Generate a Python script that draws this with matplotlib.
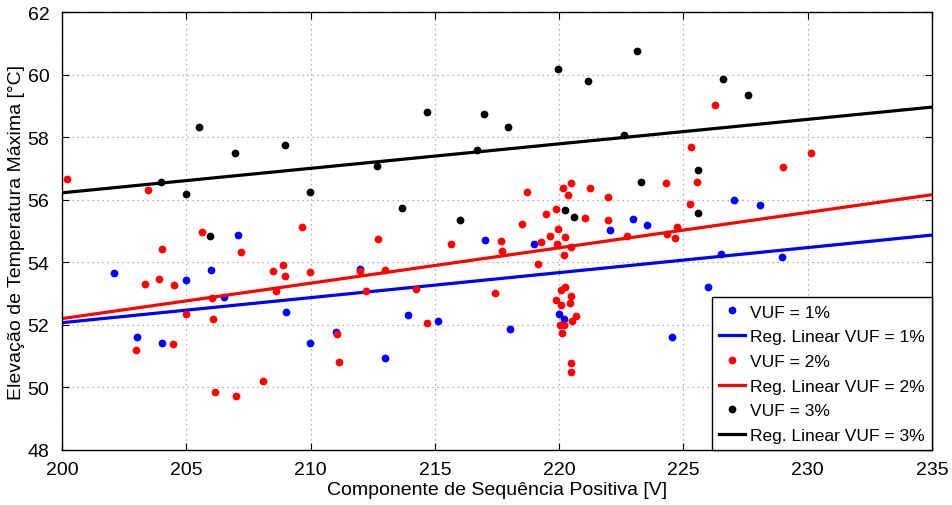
import matplotlib.pyplot as plt

plt.rcParams['font.family'] = ['Liberation Sans', 'DejaVu Sans']

# VUF = 1%
vuf1_x = [202.1, 203.03, 204.01, 204.97, 206.0, 206.52, 207.07, 209.02, 209.98, 212.0,
          211.04, 212.99, 213.9, 215.11, 217.02, 218.01, 219.0, 220.0, 220.18, 222.05,
          222.97, 223.53, 227.03, 228.09, 226.5, 228.98, 226.0, 224.55]
vuf1_y = [53.65, 51.62, 51.43, 53.44, 53.74, 52.88, 54.87, 52.4, 51.43, 53.8,
          51.77, 50.94, 52.32, 52.12, 54.72, 51.88, 54.57, 52.34, 52.2, 55.02,
          55.39, 55.19, 55.98, 55.83, 54.27, 54.16, 53.2, 51.61]

# VUF = 2%
vuf2_x = [200.21, 203.45, 205.64, 209.67, 204.01, 203.34, 203.9, 204.52, 202.97, 204.48,
          204.98, 206.02, 206.07, 207.19, 206.14, 207.01, 208.09, 208.5, 208.88, 208.98,
          208.6, 209.98, 212.71, 212.0, 213.0, 212.22, 214.26, 211.05, 211.14, 214.69,
          215.64, 217.66, 217.7, 217.43, 219.14, 219.26, 219.62, 219.9, 218.69, 219.49,
          219.86, 218.5, 219.95, 220.15, 220.46, 220.35, 221.25, 221.95, 221.03, 221.95,
          220.23, 220.49, 220.19, 226.28, 225.32, 225.55, 225.28, 229.02, 224.29, 224.35,
          224.66, 224.74, 222.72, 230.12, 220.09, 220.23, 220.46, 220.45, 219.89, 220.67,
          220.53, 220.02, 220.18, 220.12, 220.46, 220.46, 220.09]
vuf2_y = [56.65, 56.32, 54.98, 55.14, 54.43, 53.31, 53.48, 53.27, 51.2, 51.38,
          52.35, 52.85, 52.19, 54.34, 49.85, 49.73, 50.21, 53.73, 53.9, 53.56,
          53.08, 53.7, 54.76, 53.72, 53.75, 53.09, 53.16, 51.7, 50.81, 52.07,
          54.58, 54.69, 54.35, 53.03, 53.95, 54.66, 54.83, 54.57, 56.25, 55.53,
          55.69, 55.23, 55.05, 56.37, 56.52, 56.14, 56.39, 56.1, 55.41, 55.35,
          54.82, 54.48, 54.22, 59.04, 57.7, 56.57, 55.87, 57.06, 56.54, 54.89,
          54.78, 55.12, 54.83, 57.48, 53.12, 53.2, 52.92, 52.69, 52.78, 52.29,
          52.11, 52.0, 51.98, 51.73, 50.79, 50.48, 52.63]

# VUF = 3%
vuf3_x = [205.52, 206.96, 208.98, 204.0, 204.99, 209.98, 205.95, 214.67, 216.96, 217.96,
          216.69, 212.67, 213.68, 216.01, 219.97, 221.17, 223.13, 222.61, 226.59, 227.6,
          225.6, 223.29, 225.6, 220.24, 220.6]
vuf3_y = [58.31, 57.49, 57.74, 56.57, 56.18, 56.25, 54.85, 58.8, 58.75, 58.32,
          57.58, 57.07, 55.74, 55.34, 60.17, 59.78, 60.75, 58.08, 59.87, 59.35,
          56.94, 56.56, 55.56, 55.67, 55.45]

# regression lines (end values)
reg_x = [200, 235]
reg1_y = [52.07, 54.87]
reg2_y = [52.2, 56.16]
reg3_y = [56.22, 58.96]

fig = plt.figure(figsize=(9.52, 5.06), dpi=100)
ax = fig.add_axes([0.0651, 0.1087, 0.9139, 0.8656])

ms = 5.6
lw = 2.3
ax.plot(vuf1_x, vuf1_y, 'o', color='blue', markersize=ms, markeredgewidth=0, label='VUF = 1%')
ax.plot(reg_x, reg1_y, '-', color='blue', linewidth=lw, label='Reg. Linear VUF = 1%')
ax.plot(vuf2_x, vuf2_y, 'o', color='red', markersize=ms, markeredgewidth=0, label='VUF = 2%')
ax.plot(reg_x, reg2_y, '-', color='red', linewidth=lw, label='Reg. Linear VUF = 2%')
ax.plot(vuf3_x, vuf3_y, 'o', color='black', markersize=ms, markeredgewidth=0, label='VUF = 3%')
ax.plot(reg_x, reg3_y, '-', color='black', linewidth=lw, label='Reg. Linear VUF = 3%')

ax.set_xlim(200, 235)
ax.set_ylim(48, 62)
ax.set_xticks(range(200, 236, 5))
ax.set_yticks(range(48, 63, 2))
ax.grid(True, linestyle=(0, (1, 3)), color='#999999', linewidth=0.9)
ax.tick_params(direction='in', top=True, right=True, labelsize=14, length=5)
ax.tick_params(axis='x', pad=8)
ax.tick_params(axis='y', pad=9)
for s in ax.spines.values():
    s.set_linewidth(1.0)

ax.set_xlabel('Componente de Sequência Positiva [V]', fontsize=14, labelpad=2)
ax.set_ylabel('Elevação de Temperatura Máxima [°C]', fontsize=14, labelpad=2)

leg = ax.legend(loc='lower right', fontsize=12.5, fancybox=False, edgecolor='black',
                framealpha=1, borderaxespad=0, handlelength=1.5, labelspacing=0.55,
                borderpad=0.4, handletextpad=0.3, markerscale=1.0)
leg.get_frame().set_linewidth(1.0)

plt.savefig('out.png', dpi=100)
